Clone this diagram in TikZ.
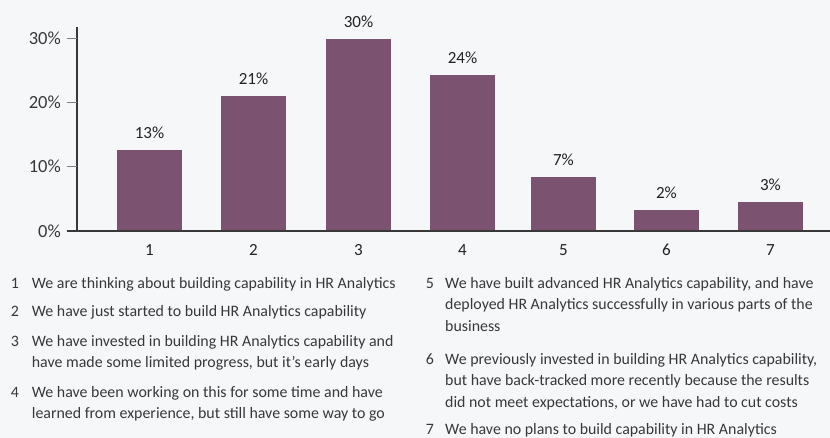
\documentclass[tikz,border=0pt]{standalone}
\usepackage{fontspec}
\setmainfont{Carlito}
\usepackage{tikz}
\usetikzlibrary{positioning, calc}

\definecolor{barplum}{HTML}{7B5370}
\definecolor{chartbg}{HTML}{F6F7F9}
\definecolor{inkgray}{HTML}{383838}
\definecolor{inkdark}{HTML}{222222}

\tikzset{
  bar/.style={fill=barplum, draw=none},
  vallabel/.style={anchor=base, inner sep=0pt, text=inkdark, font=\fontsize{17}{20}\selectfont},
  catlabel/.style={anchor=base, inner sep=0pt, text=inkdark, font=\fontsize{17}{20}\selectfont},
  ticklabel/.style={anchor=east, inner sep=0pt, text=inkgray, font=\fontsize{18.5}{21}\selectfont},
  keynum/.style={anchor=base, inner sep=0pt, text=inkgray, font=\fontsize{15.9}{21.5}\selectfont},
  % base of a multi-line key sits on its last line
  keytext/.style={anchor=base west, inner sep=0pt, align=left, text=inkgray, font=\fontsize{15.9}{21.5}\selectfont}
}

\begin{document}
\begin{tikzpicture}[x=1pt, y=-1pt]
% Canvas
\fill[chartbg] (0,0) rectangle (830,438);
\useasboundingbox (0,0) rectangle (830,438);

% Bars
\fill[bar] (117,231) rectangle (182,150);
\fill[bar] (221,231) rectangle (286,96);
\fill[bar] (326,231) rectangle (391,39);
\fill[bar] (430,231) rectangle (495,75);
\fill[bar] (531,231) rectangle (596,177);
\fill[bar] (634,231) rectangle (699,210);
\fill[bar] (738,231) rectangle (803,202);

% Axes
\draw[inkgray, line width=1.3pt] (77,27) -- (77,231);
\draw[inkgray, line width=1.3pt] (67,231) -- (830,231);
\foreach \ty/\tl in {38.3/30, 102.3/20, 166.7/10} {
  \draw[gray, line width=1pt] (67,\ty) -- (77,\ty);
  \node[ticklabel] (tick\tl) at (61,\ty) {\tl\%};
}
\node[ticklabel] (tick0) at (61,231) {0\%};

% Values
\node[vallabel] (val1) at (149.5,138.3) {13\%};
\node[vallabel] (val2) at (253.5,84.3) {21\%};
\node[vallabel] (val3) at (358.5,27.3) {30\%};
\node[vallabel] (val4) at (462.5,63.3) {24\%};
\node[vallabel] (val5) at (563.5,165.3) {7\%};
\node[vallabel] (val6) at (666.5,198.3) {2\%};
\node[vallabel] (val7) at (770.5,190.3) {3\%};

% Categories
\node[catlabel] (cat1) at (149.5,256) {1};
\node[catlabel] (cat2) at (253.5,256) {2};
\node[catlabel] (cat3) at (358.5,256) {3};
\node[catlabel] (cat4) at (462.5,256) {4};
\node[catlabel] (cat5) at (563.5,256) {5};
\node[catlabel] (cat6) at (666.5,256) {6};
\node[catlabel] (cat7) at (770.5,256) {7};

% Key, left column
\node[keynum] (num1) at (15,288.5) {1};
\node[keytext] (key1) at (31.7,288.5) {We are thinking about building capability in HR Analytics};
\node[keynum] (num2) at (15,317) {2};
\node[keytext] (key2) at (31.7,317) {We have just started to build HR Analytics capability};
\node[keynum] (num3) at (15,346) {3};
\node[keytext] (key3) at (31.7,367.5) {We have invested in building HR Analytics capability and\\have made some limited progress, but it’s early days};
\node[keynum] (num4) at (15,397) {4};
\node[keytext] (key4) at (31.7,418.5) {We have been working on this for some time and have\\learned from experience, but still have some way to go};

% Key, right column
\node[keynum] (num5) at (430,288.5) {5};
\node[keytext] (key5) at (445,331.5) {We have built advanced HR Analytics capability, and have\\deployed HR Analytics successfully in various parts of the\\business};
\node[keynum] (num6) at (430,364) {6};
\node[keytext] (key6) at (445,407) {We previously invested in building HR Analytics capability,\\but have back-tracked more recently because the results\\did not meet expectations, or we have had to cut costs};
\node[keynum] (num7) at (430,434) {7};
\node[keytext] (key7) at (445,434) {We have no plans to build capability in HR Analytics};
\end{tikzpicture}
\end{document}
